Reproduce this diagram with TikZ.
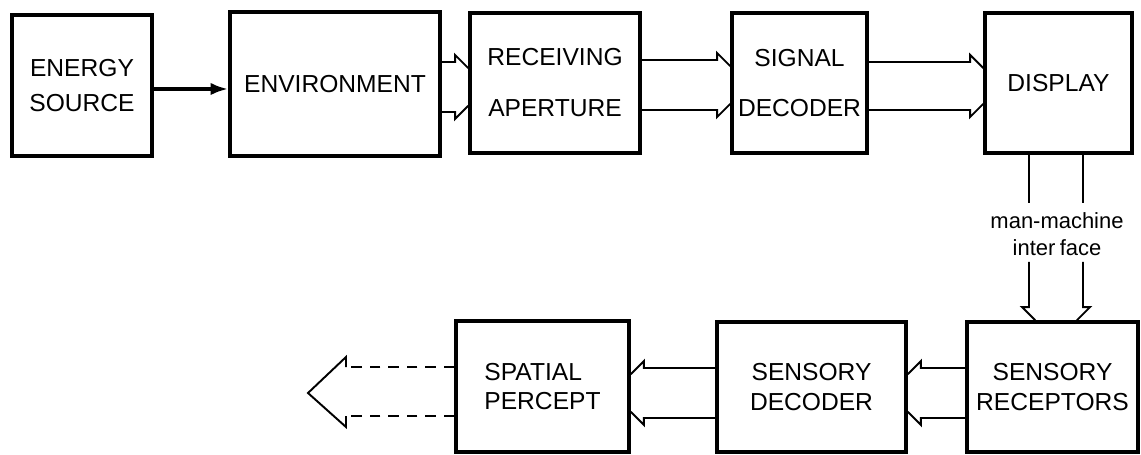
\documentclass[tikz,border=0pt]{standalone}
\usepackage{fontspec}
\setmainfont{Liberation Sans}
\usetikzlibrary{arrows.meta,calc,positioning}
\newcommand{\bback}{7.5pt}
\newcommand{\bout}{4pt}
\newcommand{\bin}{3.5pt}
\tikzset{
  block/.style={draw,line width=2pt,inner sep=0pt,align=center,font=\fontsize{14}{17}\selectfont},
  link/.style={line width=1.1pt},
  feed/.style={-{Latex[length=10pt,width=7pt]},line width=2pt},
  trail/.style={link,dash pattern=on 6pt off 4.5pt},
  barbl/.style={link,to path={-- ($(\tikztotarget)!\bback!(\tikztostart)$) -- ($(\tikztotarget)!\bback!(\tikztostart)!\bout!-90:(\tikztostart)$) -- ($(\tikztotarget)!\bin!90:(\tikztostart)$)}},
  barbr/.style={link,to path={-- ($(\tikztotarget)!\bback!(\tikztostart)$) -- ($(\tikztotarget)!\bback!(\tikztostart)!\bout!90:(\tikztostart)$) -- ($(\tikztotarget)!\bin!-90:(\tikztostart)$)}}
}
\begin{document}
\begin{tikzpicture}[x=0.02cm, y=-0.02cm]
  \path[fill=white] (0,0) rectangle (1141,455);
  \useasboundingbox (0,0) rectangle (1141,455);
  \node[block,minimum width=2.8cm,minimum height=2.82cm] (src) at (82,85.5) {ENERGY\\[3pt]SOURCE};
  \node[block,minimum width=4.2cm,minimum height=2.88cm] (env) at (335,84) {ENVIRONMENT};
  \node[block,minimum width=3.4cm,minimum height=2.8cm] (rec) at (555,83) {RECEIVING\\[12pt]APERTURE};
  \node[block,minimum width=2.7cm,minimum height=2.8cm] (sig) at (799.5,83) {SIGNAL\\[11pt]DECODER};
  \node[block,minimum width=2.94cm,minimum height=2.8cm] (disp) at (1058.5,83) {DISPLAY};
  \node[block,minimum width=3.42cm,minimum height=2.6cm] (rcp) at (1052.5,387) {SENSORY\\RECEPTORS};
  \node[block,minimum width=3.78cm,minimum height=2.6cm] (sdec) at (811.5,387) {SENSORY\\DECODER};
  \node[block,align=left,minimum width=3.46cm,minimum height=2.62cm] (spat) at (542.5,386.5) {SPATIAL\\PERCEPT};
  \node[align=center,inner sep=0pt,font=\fontsize{12.5}{15.3}\selectfont] (mmi) at (1057,234) {man-machine\\inter\hspace{0.2em}face};
  \coordinate (mmtop) at (1057,203);
  \coordinate (mmbot) at (1057,262);
  \coordinate (hu) at (346,357);
  \coordinate (tip) at (308,393);
  \coordinate (hd) at (346,427);

  \draw[feed] (src.east |- 0,89) -- (env.west |- 0,89);
  \draw[barbl] (env.east |- 0,62) to (rec.west |- 0,62);
  \draw[barbr] (env.east |- 0,112) to (rec.west |- 0,112);
  \draw[barbl] (rec.east |- 0,60) to (sig.west |- 0,60);
  \draw[barbr] (rec.east |- 0,110) to (sig.west |- 0,110);
  \draw[barbl] (sig.east |- 0,62) to (disp.west |- 0,62);
  \draw[barbr] (sig.east |- 0,110) to (disp.west |- 0,110);
  \draw[link] (disp.south -| 1029,0) -- (mmtop -| 1029,0);
  \draw[link] (disp.south -| 1083,0) -- (mmtop -| 1083,0);
  \draw[barbr] (mmbot -| 1029,0) to (rcp.north -| 1029,0);
  \draw[barbl] (mmbot -| 1083,0) to (rcp.north -| 1083,0);
  \draw[barbr] (rcp.west |- 0,368) to (sdec.east |- 0,368);
  \draw[barbl] (rcp.west |- 0,418) to (sdec.east |- 0,418);
  \draw[barbr] (sdec.west |- 0,368) to (spat.east |- 0,368);
  \draw[barbl] (sdec.west |- 0,418) to (spat.east |- 0,418);
  \draw[trail] (spat.west |- 0,367) -- (hu |- 0,367);
  \draw[trail] (spat.west |- 0,416) -- (hd |- 0,416);
  \draw[link] (hu |- 0,367) -- (hu) -- (tip) -- (hd) -- (hd |- 0,416);
\end{tikzpicture}
\end{document}
